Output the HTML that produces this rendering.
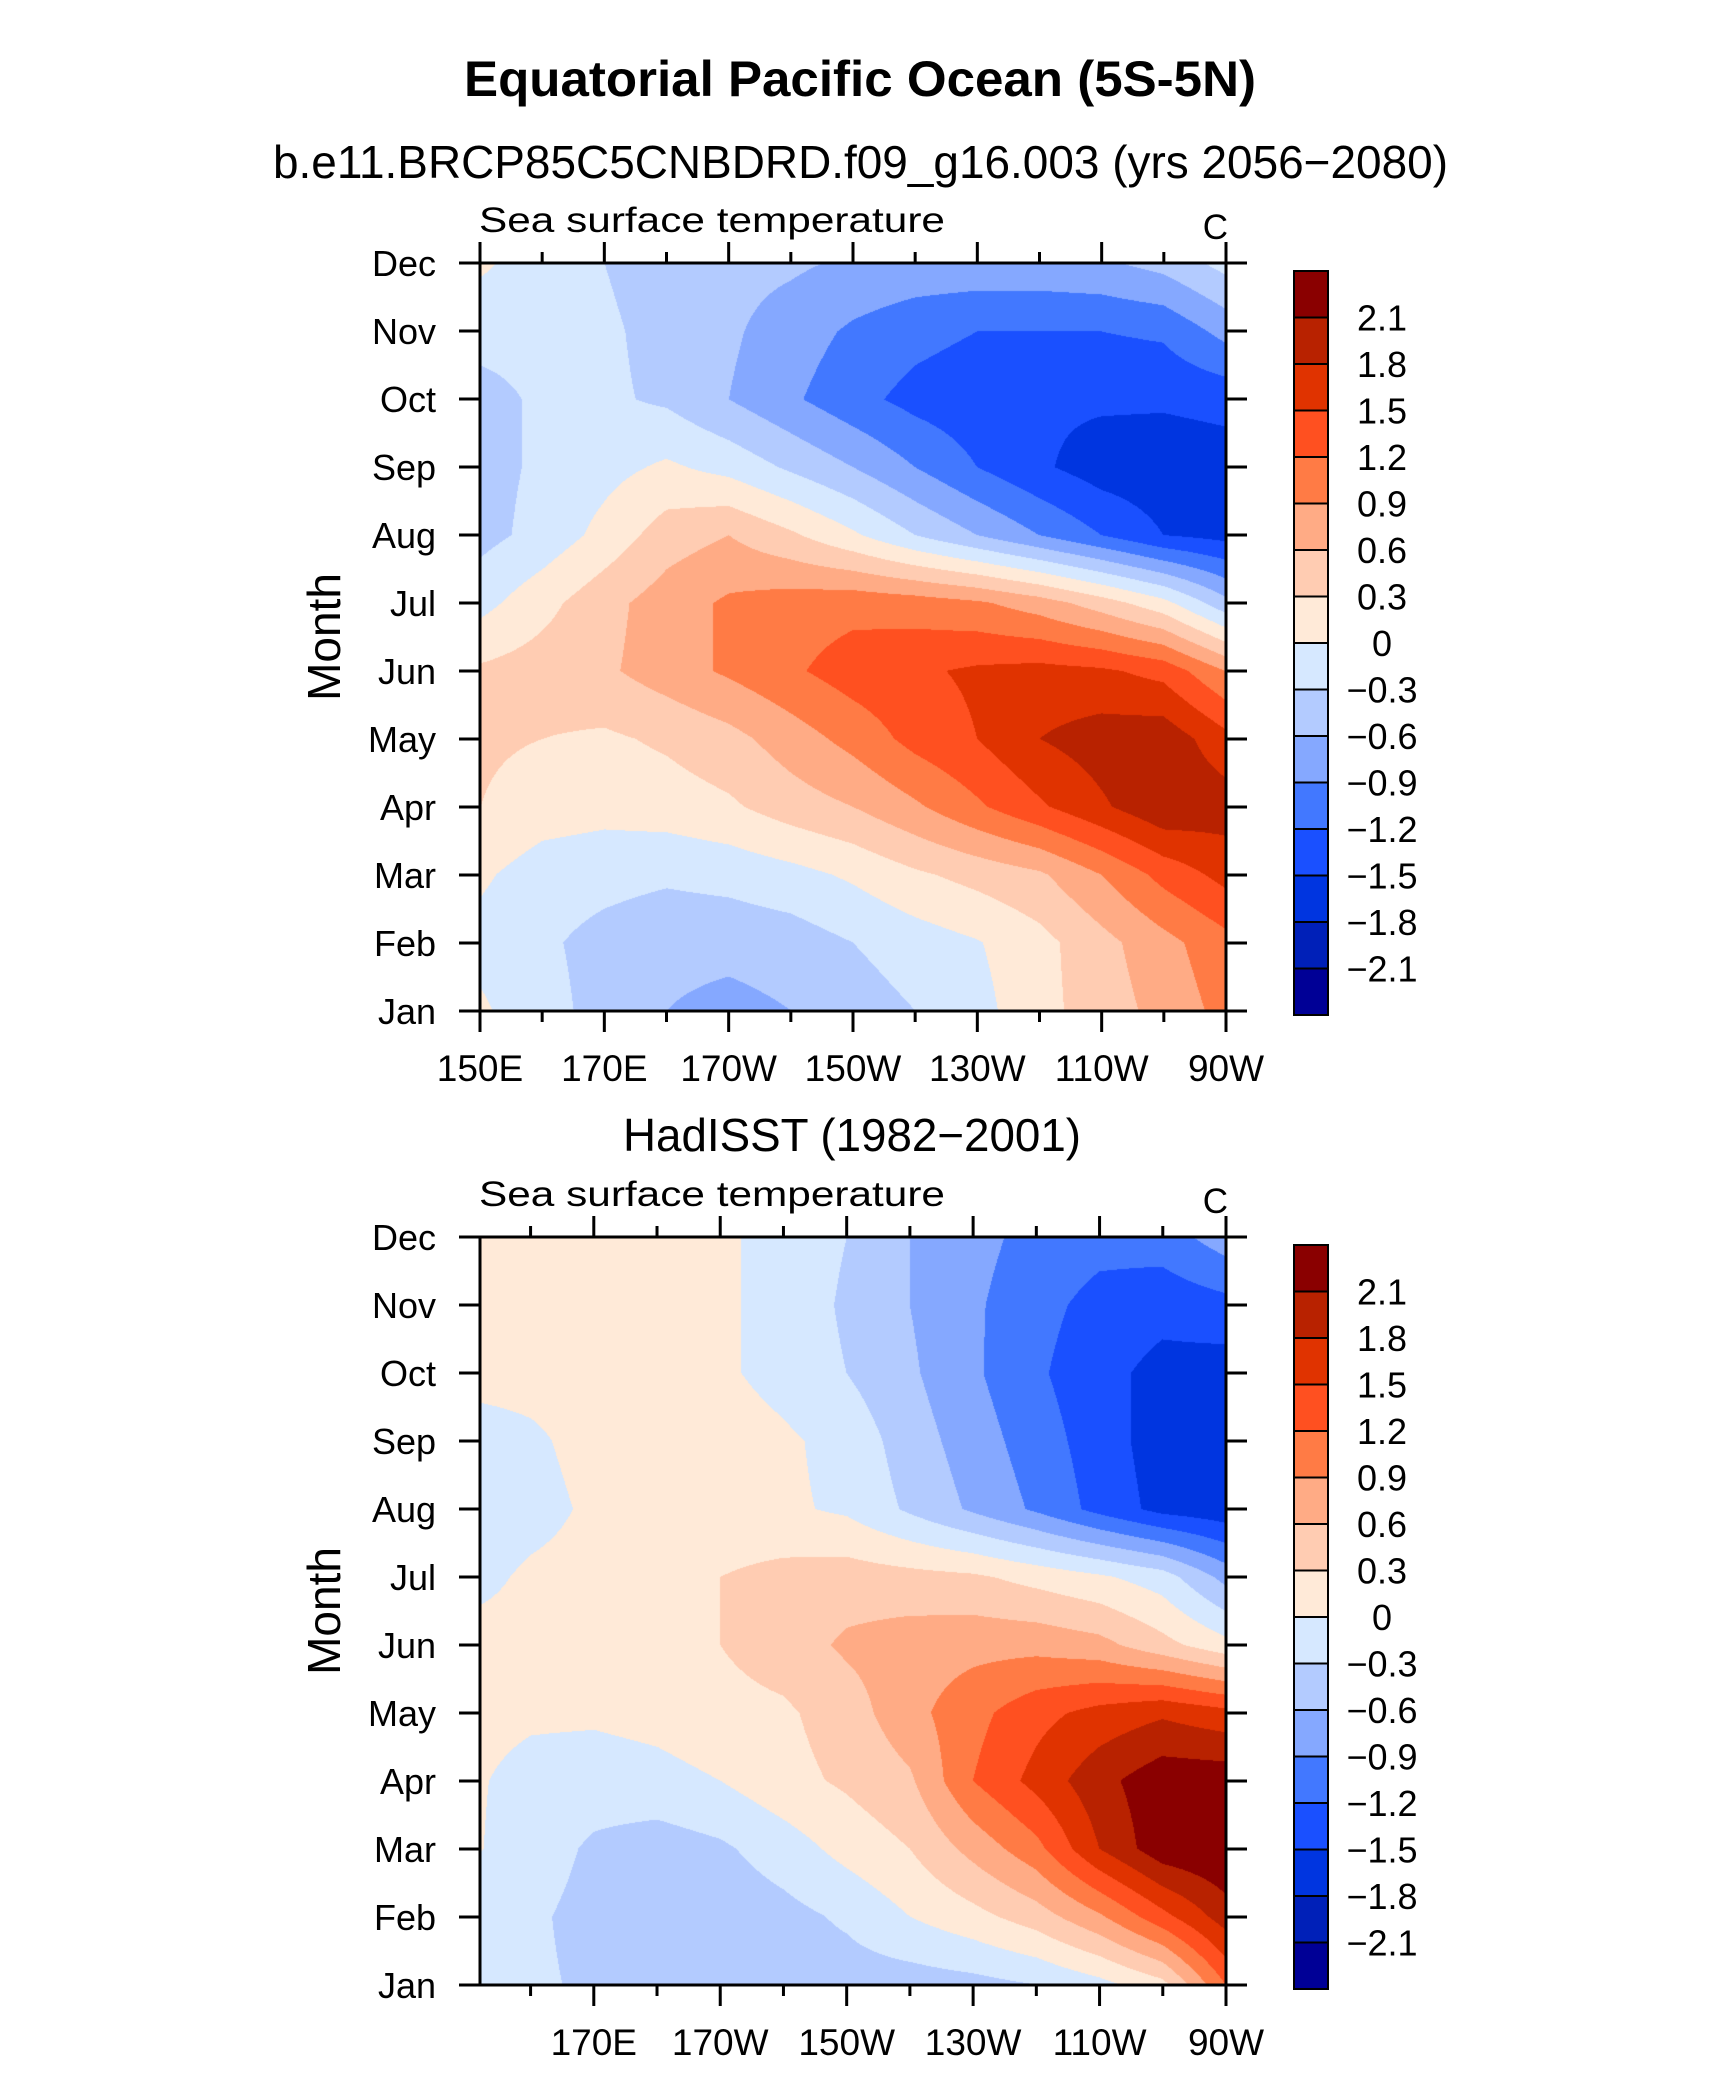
<!DOCTYPE html>
<html><head><meta charset="utf-8">
<style>
html,body{margin:0;padding:0;background:#fff;}
body{width:1710px;height:2080px;position:relative;overflow:hidden;font-family:"Liberation Sans",sans-serif;}
canvas{position:absolute;}
svg{position:absolute;left:0;top:0;}
</style></head>
<body>
<canvas id="c1" width="746" height="748" style="left:480px;top:263px"></canvas>
<canvas id="c2" width="746" height="748" style="left:480px;top:1237px"></canvas>
<svg id="s" width="1710" height="2080">
<text x="464" y="96" font-size="50" font-weight="bold" textLength="792" lengthAdjust="spacingAndGlyphs">Equatorial Pacific Ocean (5S-5N)</text>
<text x="273" y="178" font-size="46" textLength="1175" lengthAdjust="spacingAndGlyphs">b.e11.BRCP85C5CNBDRD.f09_g16.003 (yrs 2056−2080)</text>
<text x="623" y="1151" font-size="46" textLength="458" lengthAdjust="spacingAndGlyphs">HadISST (1982−2001)</text>
</svg>
<script>
const months=['Jan','Feb','Mar','Apr','May','Jun','Jul','Aug','Sep','Oct','Nov','Dec'];
const lons=[150,160,170,180,190,200,210,220,230,240,250,260,270];
const levels=[-2.1,-1.8,-1.5,-1.2,-0.9,-0.6,-0.3,0,0.3,0.6,0.9,1.2,1.5,1.8,2.1];
const levelLabels=['−2.1','−1.8','−1.5','−1.2','−0.9','−0.6','−0.3','0','0.3','0.6','0.9','1.2','1.5','1.8','2.1'];
const colors=['#000096','#0020b8','#0035e0','#1a50ff','#4278ff','#85a8ff','#b3cbff','#d6e8ff','#ffead8','#ffccb2','#ffab85','#ff7b45','#ff5020','#e03300','#b82200','#8a0000'];
const lonTicks=[150,170,190,210,230,250,270];
const lonTickLabels=['150E','170E','170W','150W','130W','110W','90W'];
// model rows Jan..Dec, cols 150E..270
const modelSST=[
[0.05,-0.2,-0.4,-0.6,-0.7,-0.6,-0.45,-0.3,-0.1,0.2,0.45,0.7,1.0],
[-0.1,-0.25,-0.4,-0.5,-0.5,-0.45,-0.3,-0.15,-0.02,0.2,0.5,0.8,1.1],
[0.05,-0.15,-0.2,-0.25,-0.2,-0.1,0.05,0.25,0.4,0.55,0.9,1.3,1.6],
[0.3,0.15,0.1,0.15,0.25,0.45,0.6,0.85,1.15,1.45,1.75,2.05,1.95],
[0.35,0.3,0.25,0.35,0.5,0.75,1.0,1.3,1.5,1.8,1.95,2.0,1.6],
[0.35,0.45,0.55,0.75,0.95,1.15,1.35,1.45,1.55,1.6,1.55,1.4,0.9],
[-0.1,0.2,0.5,0.75,0.95,1.05,1.1,1.05,0.95,0.75,0.45,0.1,-0.5],
[-0.4,-0.2,0.1,0.45,0.6,0.35,0.05,-0.3,-0.6,-0.9,-1.2,-1.5,-1.6],
[-0.4,-0.25,-0.1,0.05,-0.1,-0.35,-0.6,-0.9,-1.2,-1.45,-1.65,-1.7,-1.65],
[-0.4,-0.25,-0.25,-0.35,-0.6,-0.85,-1.1,-1.3,-1.4,-1.45,-1.45,-1.45,-1.4],
[-0.2,-0.2,-0.25,-0.4,-0.55,-0.75,-0.95,-1.1,-1.2,-1.2,-1.2,-1.15,-0.8],
[0.05,-0.15,-0.3,-0.45,-0.5,-0.55,-0.65,-0.7,-0.7,-0.7,-0.65,-0.5,-0.2]];
const obsSST=[
[-0.1,-0.25,-0.35,-0.4,-0.45,-0.45,-0.45,-0.45,-0.4,-0.3,-0.1,0.2,1.2],
[-0.15,-0.25,-0.4,-0.5,-0.5,-0.4,-0.25,0.0,0.2,0.45,0.85,1.4,1.95],
[0.05,-0.15,-0.35,-0.45,-0.35,-0.15,0.1,0.3,0.7,1.1,1.8,2.3,2.4],
[0.05,-0.1,-0.15,-0.1,0.0,0.2,0.35,0.55,1.2,1.6,2.0,2.3,2.3],
[0.1,0.05,0.05,0.1,0.2,0.25,0.45,0.8,1.1,1.4,1.6,1.75,1.6],
[0.1,0.1,0.15,0.2,0.3,0.45,0.65,0.75,0.8,0.8,0.7,0.4,0.1],
[-0.1,0.05,0.1,0.15,0.3,0.4,0.45,0.4,0.35,0.2,0.05,-0.15,-0.7],
[-0.2,-0.1,0.05,0.1,0.1,0.05,-0.05,-0.35,-0.65,-0.95,-1.3,-1.6,-1.7],
[-0.15,-0.05,0.1,0.3,0.15,0.05,-0.1,-0.45,-0.75,-1.05,-1.35,-1.65,-1.7],
[0.1,0.1,0.1,0.1,0.05,-0.1,-0.3,-0.55,-0.85,-1.15,-1.4,-1.6,-1.65],
[0.1,0.1,0.1,0.1,0.05,-0.1,-0.35,-0.6,-0.85,-1.1,-1.3,-1.4,-1.3],
[0.1,0.1,0.1,0.1,0.05,-0.1,-0.3,-0.6,-0.8,-1.0,-1.1,-1.05,-0.75]];

function hex(c){return [parseInt(c.substr(1,2),16),parseInt(c.substr(3,2),16),parseInt(c.substr(5,2),16)];}
const rgb=colors.map(hex);
function fill(id,data,lon0,lon1){
  const cv=document.getElementById(id),ctx=cv.getContext('2d');
  const W=cv.width,H=cv.height,img=ctx.createImageData(W,H);
  for(let py=0;py<H;py++){
    const my=(H-1-py)/(H-1)*11;const j=Math.min(10,Math.floor(my)),fy=my-j;
    for(let px=0;px<W;px++){
      const lon=lon0+px/(W-1)*(lon1-lon0);
      const mx=(lon-lons[0])/10;const i=Math.min(11,Math.floor(mx)),fx=mx-i;
      const v=(data[j][i]*(1-fx)+data[j][i+1]*fx)*(1-fy)+(data[j+1][i]*(1-fx)+data[j+1][i+1]*fx)*fy;
      let k=0;while(k<levels.length&&v>=levels[k])k++;
      const c=rgb[k],o=(py*W+px)*4;img.data[o]=c[0];img.data[o+1]=c[1];img.data[o+2]=c[2];img.data[o+3]=255;
    }
  }
  ctx.putImageData(img,0,0);
}
fill('c1',modelSST,150,270);
fill('c2',obsSST,152,270);

const svg=document.getElementById('s');const NS='http://www.w3.org/2000/svg';
function mk(t,a,txt){const e=document.createElementNS(NS,t);for(const k in a)e.setAttribute(k,a[k]);if(txt!==undefined)e.textContent=txt;svg.appendChild(e);return e;}
function panel(top,lon0,lon1,showFirst,name){
  const L=480,R=1226,T=top,B=top+748;
  const x=lon=>L+(lon-lon0)/(lon1-lon0)*(R-L);
  const y=m=>B-m/11*(B-T);
  let e=mk('rect',{x:L,y:T,width:R-L,height:B-T,fill:'none',stroke:'#000','stroke-width':3});
  
  
  for(let lon=150;lon<=270;lon+=10){
    if(lon<lon0-0.01)continue;
    const major=(lon-150)%20===0;const len=major?21:11;const xx=x(lon);
    e=mk('line',{x1:xx,y1:T,x2:xx,y2:T-len,stroke:'#000','stroke-width':3});
    
    
    e=mk('line',{x1:xx,y1:B,x2:xx,y2:B+len,stroke:'#000','stroke-width':3});
    
    
  }
  lonTicks.forEach((lon,i)=>{
    if(lon<lon0-0.01)return;
    if(!showFirst&&i===0)return;
    e=mk('text',{x:x(lon),y:B+70,'font-size':37,'text-anchor':'middle'},lonTickLabels[i]);
    
    
  });
  months.forEach((m,i)=>{
    const yy=y(i);
    e=mk('line',{x1:L,y1:yy,x2:L-21,y2:yy,stroke:'#000','stroke-width':3});
    
    
    e=mk('line',{x1:R,y1:yy,x2:R+21,y2:yy,stroke:'#000','stroke-width':3});
    
    
    e=mk('text',{x:436,y:yy+13,'font-size':36,'text-anchor':'end'},m);
    
    
  });
  e=mk('text',{x:0,y:0,'font-size':46,'text-anchor':'middle',transform:'translate(340,'+((T+B)/2)+') rotate(-90)'},'Month');
  
  
  e=mk('text',{x:479,y:T-31,'font-size':35,textLength:466,lengthAdjust:'spacingAndGlyphs'},'Sea surface temperature');
  
  
  e=mk('text',{x:1228,y:T-24,'font-size':35,'text-anchor':'end'},'C');
  
  
  const cT=T+8,cB=T+752,bh=(cB-cT)/colors.length;
  colors.slice().reverse().forEach((c,i)=>{
    e=mk('rect',{x:1294,y:cT+i*bh,width:34,height:bh,fill:c,stroke:'#000','stroke-width':2});
    
    
  });
  levelLabels.slice().reverse().forEach((l,i)=>{
    e=mk('text',{x:1382,y:cT+(i+1)*bh+13,'font-size':36,'text-anchor':'middle'},l);
    
    
  });
}
panel(263,150,270,true,'model');
panel(1237,152,270,false,'obs');
</script>
</body></html>
